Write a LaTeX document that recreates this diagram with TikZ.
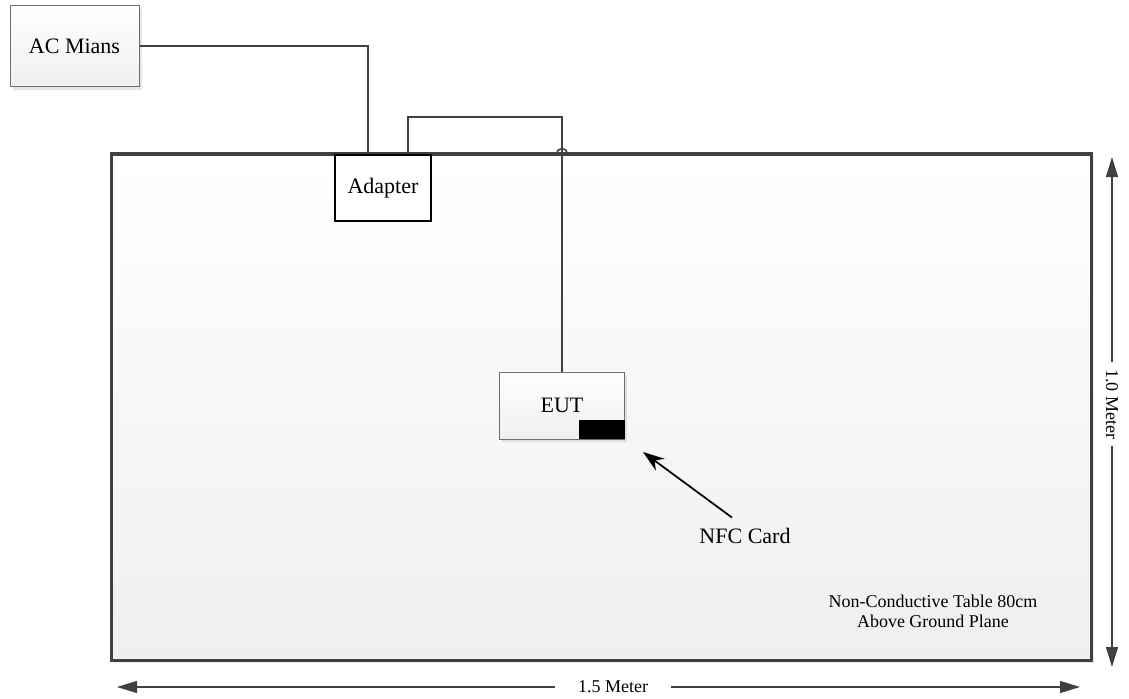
\documentclass[tikz,border=0pt]{standalone}
\usepackage{fontspec}
\setmainfont{Liberation Serif}
\usepackage{tikz}
\definecolor{wiregray}{RGB}{64,64,64}
\definecolor{tablegray}{RGB}{239,239,239}
\definecolor{boxgray}{RGB}{110,110,110}
\usetikzlibrary{calc, shadows, arrows.meta, positioning}
\tikzset{
  devbox/.style={draw=boxgray, line width=0.75pt, top color=white, bottom color=tablegray,
    drop shadow={opacity=0.2, shadow xshift=2pt, shadow yshift=-2pt},
    font=\fontsize{16.5}{19}\selectfont, inner sep=0pt},
  wire/.style={draw=wiregray, line width=1.5pt},
  dimline/.style={draw=wiregray, line width=0.9pt, {Triangle[length=15pt,width=9pt]}-{Triangle[length=15pt,width=9pt]}},
  dimlabel/.style={fill=white, font=\fontsize{13.5}{15}\selectfont, inner ysep=1pt}
}

\begin{document}
\begin{tikzpicture}[x=.75pt, y=-.75pt]
     \useasboundingbox (0,0) rectangle (1129,699);
     %table
     \node[draw=wiregray, line width=2.25pt, top color=white, bottom color=tablegray,
       drop shadow={opacity=0.15, shadow xshift=2pt, shadow yshift=-2pt},
       minimum width=735pt, minimum height=379.5pt, inner sep=0pt] (table) at (601,407) {};
     \node[font=\fontsize{13.5}{15}\selectfont, align=center] (tabletext) at (933,611) {Non-Conductive Table 80cm\\Above Ground Plane};
     %mains and adapter
     \node[devbox, minimum width=96.75pt, minimum height=60.75pt] (mains) at (74.5,46.5) {AC Mians};
     \node[draw=black, fill=white, line width=0.9pt, minimum width=72pt, minimum height=49.5pt,
       font=\fontsize{16.5}{19}\selectfont, inner sep=0pt] (adapter) at (383,188) {Adapter};
     %eut
     \node[devbox, minimum width=93.75pt, minimum height=50.25pt] (eut) at (562,405.5) {EUT};
     \node[fill=black, minimum width=34.5pt, minimum height=14.25pt, inner sep=0pt, anchor=south east] (card) at (eut.south east) {};
     %wires
     \draw[wire] (mains.east) -| ([xshift=-11.25pt]adapter.north);
     \draw[wire] ([xshift=18.75pt]adapter.north) |- (eut.north |- 0,117) -- (eut.north);
     \draw[wire, line width=1.2pt] (556.5,154) arc (180:360:5.5);
     %nfc card
     \node[font=\fontsize{16.5}{19}\selectfont] (nfc) at (745,536) {NFC Card};
     \coordinate (cardtip) at (643,452);
     \draw[line width=1.3pt, -{Stealth[length=16pt,width=11pt]}] ([xshift=-9.75pt,yshift=4.5pt]nfc.north) -- (cardtip);
     %dimensions
     \coordinate (vtop) at (1112,157);
     \coordinate (vbot) at (1112,667);
     \draw[dimline] (vtop) -- (vbot);
     \node[dimlabel, rotate=-90, inner xsep=5.5pt] (height) at (1112,404) {1.0 Meter};
     \coordinate (hleft) at (117,687);
     \coordinate (hright) at (1080,687);
     \draw[dimline] (hleft) -- (hright);
     \node[dimlabel, inner xsep=17pt] (width) at (613,687) {1.5 Meter};
\end{tikzpicture}
\end{document}
